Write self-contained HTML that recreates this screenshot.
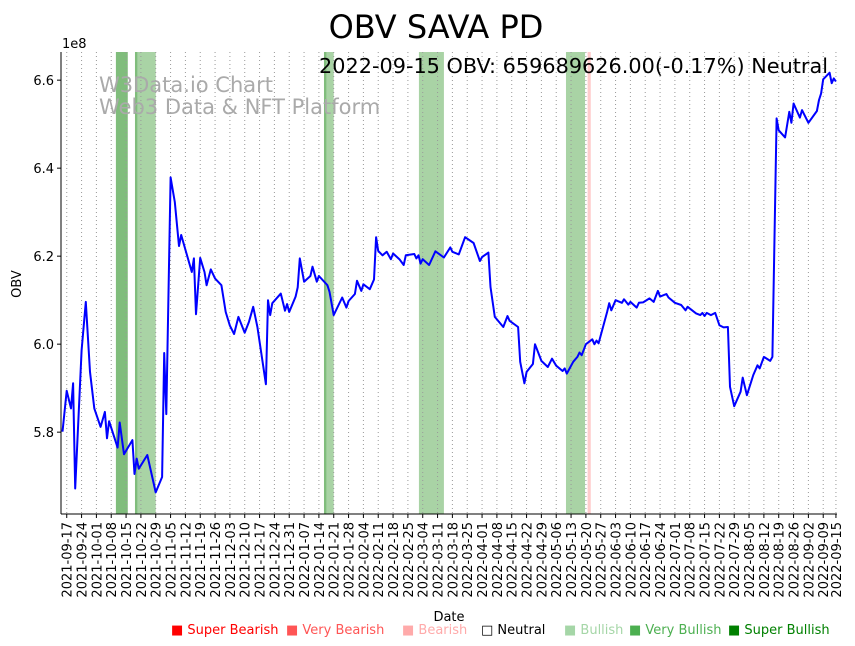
<!DOCTYPE html>
<html><head><meta charset="utf-8"><style>
body{margin:0;background:#fff;}
svg{display:block;font-family:"DejaVu Sans","Liberation Sans",sans-serif;}
</style></head><body>
<svg id="chart" width="855" height="646"></svg>
<script>
const startDate = new Date(Date.UTC(2021,8,15));
const dayOffsets = [0,2,4,5,6,9,11,13,15,18,20,21,22,26,27,29,33,34,35,36,40,44,47,48,49,51,53,55,56,61,62,63,65,67,68,70,72,75,77,79,81,83,86,88,90,92,96,97,98,99,103,105,106,107,110,111,112,114,117,118,120,121,125,126,128,132,134,135,138,139,141,142,145,147,148,149,151,153,155,156,159,161,162,166,167,168,169,170,173,176,180,183,184,187,190,194,197,198,201,202,204,208,210,211,215,216,218,219,222,223,226,229,231,233,236,237,238,241,243,244,245,247,250,251,252,253,257,258,259,261,264,265,267,268,271,272,274,277,279,281,282,285,286,289,292,294,295,299,301,302,303,304,306,308,310,312,314,315,317,320,321,323,326,328,329,331,334,335,337,338,341,343,344,345,348,349,352,356,357,358,359,362,363,364,365];
const obvValues = [5.801,5.894,5.854,5.911,5.672,5.986,6.096,5.937,5.854,5.812,5.846,5.786,5.825,5.765,5.822,5.75,5.782,5.705,5.74,5.717,5.748,5.663,5.698,5.98,5.841,6.379,6.323,6.223,6.248,6.164,6.195,6.068,6.196,6.164,6.134,6.17,6.149,6.134,6.073,6.042,6.023,6.062,6.026,6.051,6.085,6.039,5.909,6.1,6.066,6.093,6.115,6.076,6.091,6.073,6.108,6.129,6.195,6.142,6.155,6.176,6.142,6.155,6.134,6.119,6.066,6.106,6.083,6.098,6.114,6.144,6.121,6.136,6.125,6.147,6.243,6.212,6.202,6.21,6.193,6.206,6.193,6.18,6.202,6.205,6.195,6.202,6.183,6.193,6.18,6.211,6.197,6.22,6.21,6.204,6.243,6.23,6.189,6.198,6.208,6.13,6.062,6.039,6.064,6.053,6.039,5.96,5.911,5.937,5.955,6.0,5.962,5.948,5.967,5.951,5.939,5.945,5.933,5.96,5.971,5.981,5.975,6.0,6.011,6.0,6.008,6.002,6.073,6.093,6.077,6.1,6.094,6.102,6.09,6.096,6.083,6.094,6.095,6.104,6.096,6.121,6.108,6.114,6.106,6.094,6.089,6.077,6.085,6.07,6.066,6.071,6.064,6.071,6.066,6.071,6.043,6.038,6.039,5.903,5.859,5.892,5.924,5.884,5.93,5.952,5.945,5.971,5.962,5.971,6.513,6.486,6.47,6.528,6.503,6.547,6.515,6.532,6.503,6.53,6.555,6.57,6.602,6.617,6.593,6.604,6.597];
const yTicks = [5.8,6.0,6.2,6.4,6.6];
const spanStarts = [25.2,34.2,35.5,123.4,124.7,168.2,237.6,247.8];
const spanEnds   = [30.8,35.5,44,124.7,128,180,246.6,249.3];
const spanKinds  = ['vbull','vbull','bull','vbull','bull','bull','bull','bear'];

const L=61,R=837,T=52,B=514;
const x0px=62.5, pxPerDay=2.119;
const yMin=5.614, yMax=6.664;
function xs(d){return x0px+d*pxPerDay;}
function ys(v){return B-(v-yMin)/(yMax-yMin)*(B-T);}
const NS='http://www.w3.org/2000/svg';
const svg=document.getElementById('chart');
function mk(tag,attrs,parent){const e=document.createElementNS(NS,tag);for(const k in attrs)e.setAttribute(k,attrs[k]);(parent||svg).appendChild(e);return e;}
const kindColor={bull:'#a9d3a5',vbull:'#80bd7c',bear:'#ffcccc'};

spanStarts.forEach((s,i)=>{
  const r=mk('rect',{x:xs(s),y:T,width:xs(spanEnds[i])-xs(s),height:B-T,fill:kindColor[spanKinds[i]]});
  
  
});
const tickDays=[];
for(let d=2;d<=359;d+=7) tickDays.push(d);
tickDays.push(365);
tickDays.forEach(d=>{
  const x=xs(d);
  const g=mk('line',{x1:x,x2:x,y1:T,y2:B,stroke:'#999','stroke-width':1,'stroke-dasharray':'1,3'});
  
  
  mk('line',{x1:x,x2:x,y1:B,y2:B+4,stroke:'#000'});
  const dt=new Date(startDate.getTime()+d*86400000);
  const lbl=dt.toISOString().slice(0,10);
  const t=mk('text',{x:x+5,y:B+8,transform:`rotate(-90 ${x+5} ${B+8})`,'text-anchor':'end','font-size':13,fill:'#000'});
  t.textContent=lbl;
  
  
});
yTicks.forEach(v=>{
  const y=ys(v);
  mk('line',{x1:L-4,x2:L,y1:y,y2:y,stroke:'#000'});
  const t=mk('text',{x:L-7,y:y+5,'text-anchor':'end','font-size':13});
  t.textContent=v.toFixed(1);
  
  
});
const pts=dayOffsets.map((d,i)=>xs(d).toFixed(1)+','+ys(obvValues[i]).toFixed(1)).join(' ');
const pl=mk('polyline',{points:pts,fill:'none',stroke:'#0000ff','stroke-width':2,'stroke-linejoin':'round'});


mk('line',{x1:L,x2:L,y1:T,y2:B,stroke:'#000','stroke-width':1});
mk('line',{x1:L,x2:R,y1:B,y2:B,stroke:'#000','stroke-width':1});
</script>
<svg width="855" height="646" style="position:absolute;left:0;top:0">
<g font-family="DejaVu Sans, Liberation Sans, sans-serif">
<text x="436" y="38" text-anchor="middle" font-size="32">OBV SAVA PD</text>
<text x="828" y="73" text-anchor="end" font-size="20.8">2022-09-15 OBV: 659689626.00(-0.17%) Neutral</text>
<text x="99" y="92" font-size="21" fill="#aaa">W3Data.io Chart</text>
<text x="99" y="114" font-size="21" fill="#aaa">Web3 Data &amp; NFT Platform</text>
<text x="62" y="48" font-size="13">1e8</text>
<text x="21" y="284" font-size="13" text-anchor="middle" transform="rotate(-90 21 284)">OBV</text>
<text x="449" y="621" font-size="13" text-anchor="middle">Date</text>
<g font-size="13">
<text x="171" y="634" fill="#ff0000">■ Super Bearish</text>
<text x="286" y="634" fill="#ff5555">■ Very Bearish</text>
<text x="402" y="634" fill="#ffaaaa">■ Bearish</text>
<text x="481" y="634" fill="#000">□ Neutral</text>
<text x="564" y="634" fill="#a5d6a7">■ Bullish</text>
<text x="629" y="634" fill="#4caf50">■ Very Bullish</text>
<text x="728" y="634" fill="#008000">■ Super Bullish</text>
</g></g></svg>
</body></html>
